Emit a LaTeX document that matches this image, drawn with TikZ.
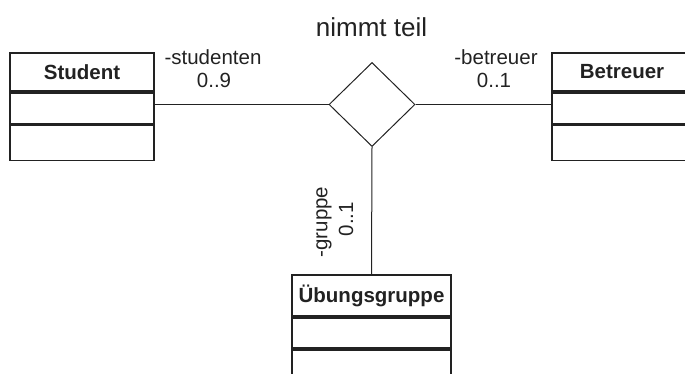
\documentclass[tikz,border=0pt]{standalone}
\usepackage{fontspec}
\setmainfont{Liberation Sans}
\usetikzlibrary{shapes.geometric}
\definecolor{ink}{HTML}{222222}
\tikzset{
  hdr/.style={draw=ink, line width=1.8pt, rectangle, inner sep=0pt, text=ink,
    font=\fontsize{20.5}{20.5}\selectfont\bfseries},
  cmp/.style={draw=ink, line width=1.8pt, rectangle, inner sep=0pt},
  lbl/.style={text=ink, inner sep=0pt, font=\fontsize{20.5}{20.5}\selectfont},
  conn/.style={draw=ink, line width=1pt},
  rel/.style={diamond, draw=ink, line width=1pt, inner sep=0pt, minimum width=86pt, minimum height=84pt}
}
\begin{document}
\begin{tikzpicture}[x=1pt,y=-1pt]
\useasboundingbox (0,0) rectangle (685,374);
\clip (0,0) rectangle (685,374);
% Student
\node[hdr, minimum width=144pt, minimum height=38pt] (stuh) at (82,72) {Student};
\node[cmp, minimum width=144pt, minimum height=31pt, anchor=north] (stu1) at (stuh.south) {};
\node[cmp, minimum width=144pt, minimum height=35pt, anchor=north] (stu2) at (stu1.south) {};
% Betreuer
\node[hdr, minimum width=140pt, minimum height=38pt] (beth) at (622,72) {Betreuer};
\node[cmp, minimum width=140pt, minimum height=31pt, anchor=north] (bet1) at (beth.south) {};
\node[cmp, minimum width=140pt, minimum height=35pt, anchor=north] (bet2) at (bet1.south) {};
% Uebungsgruppe
\node[hdr, minimum width=159pt, minimum height=41pt] (ueh) at (371.5,295.5) {Übungsgruppe};
\node[cmp, minimum width=159pt, minimum height=30pt, anchor=north] (ue1) at (ueh.south) {};
\node[cmp, minimum width=159pt, minimum height=40pt, anchor=north] (ue2) at (ue1.south) {};
% relation
\node[rel] (rel) at (372,104.5) {};
\node[lbl, font=\fontsize{26}{26}\selectfont, anchor=base] (title) at (371.5,37) {nimmt teil};
% connectors
\draw[conn] (rel.west) -- (rel.west -| stu1.east);
\draw[conn] (rel.east) -- (rel.east -| bet1.west);
\draw[conn] (rel.south) -- (ueh.north);
% labels
\node[lbl, anchor=base] (l1) at (213,65) {-studenten};
\node[lbl, anchor=base] (l2) at (214,88) {0..9};
\node[lbl, anchor=base] (l3) at (496,65) {-betreuer};
\node[lbl, anchor=base] (l4) at (494,88) {0..1};
\node[lbl, rotate=90] (l5) at (324,222) {-gruppe};
\node[lbl, rotate=90] (l6) at (346,219) {0..1};
\end{tikzpicture}
\end{document}
